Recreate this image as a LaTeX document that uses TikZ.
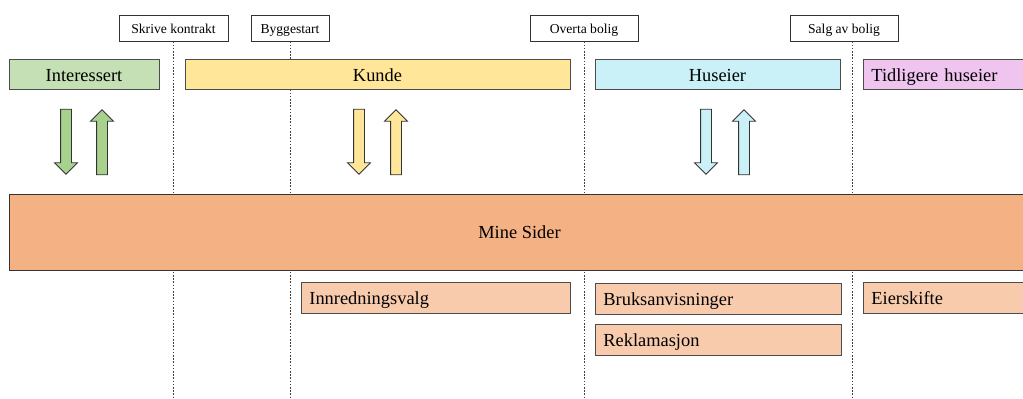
\documentclass[tikz,border=0pt]{standalone}
\usepackage{fontspec}
\setmainfont{Liberation Serif}
\usetikzlibrary{shapes.arrows,positioning}

\definecolor{intgreen}{HTML}{C5E0B4}
\definecolor{arrgreen}{HTML}{A9D18E}
\definecolor{kundeyellow}{HTML}{FFE699}
\definecolor{husecyan}{HTML}{C9F1F7}
\definecolor{tidpink}{HTML}{EFC4EF}
\definecolor{pageorange}{HTML}{F4B183}
\definecolor{suborange}{HTML}{F8CBAD}

\begin{document}
\begin{tikzpicture}[x=0.75pt, y=-0.75pt, line width=0.6pt,
  mile node/.style={draw=black!80, fill=white, font=\fontsize{10.2}{12}\selectfont, minimum height=19.5pt, inner sep=0pt, text height=10pt, text depth=1.5pt},
  mile line/.style={draw=black!75, dash pattern=on 1.2pt off 1.2pt},
  role node/.style={draw=black!70, font=\fontsize{13.8}{16}\selectfont, minimum height=22.5pt, inner sep=0pt, text height=12.2pt, text depth=1.5pt},
  page node/.style={draw=black!80, fill=pageorange, font=\fontsize{13.8}{16}\selectfont, minimum height=57pt, inner sep=0pt},
  sub node/.style={draw=black!70, fill=suborange, font=\fontsize{13.8}{16}\selectfont, minimum height=23.25pt, inner xsep=6pt, inner ysep=0pt, text height=12.2pt, text depth=1.5pt, align=left},
  flow arrow/.style={single arrow, draw=black!80, minimum height=48.75pt, single arrow head extend=4.5pt, inner sep=3.75pt},
  down/.style={flow arrow, shape border rotate=270},
  up/.style={flow arrow, shape border rotate=90}]
\useasboundingbox (0,0) rectangle (1023,399);

% milestones
\node[mile node, minimum width=81.75pt] (skrive) at (173.5,28) {Skrive kontrakt};
\node[mile node, minimum width=58.5pt] (bygge) at (290,28) {Byggestart};
\node[mile node, minimum width=81pt] (overta) at (584,28) {Overta bolig};
\node[mile node, minimum width=81pt] (salg) at (844,28) {Salg av bolig};

\coordinate (e1) at (173.5,399);
\coordinate (e2) at (290,399);
\coordinate (e3) at (584,399);
\coordinate (e4) at (852,399);
\draw[mile line] (skrive.south) -- (e1);
\draw[mile line] (bygge.south) -- (e2);
\draw[mile line] (overta.south) -- (e3);
\draw[mile line] (salg.south -| e4) -- (e4);

% roles
\node[role node, fill=intgreen, minimum width=112.5pt] (interessert) at (84,74.5) {Interessert};
\node[role node, fill=kundeyellow, minimum width=288.75pt] (kunde) at (377.5,74.5) {Kunde};
\node[role node, fill=husecyan, minimum width=183.75pt] (huseier) at (717.5,74.5) {Huseier};
\node[role node, fill=tidpink, minimum width=125.25pt, text width=113.25pt, align=left, inner xsep=6pt, anchor=west] (tidligere) at (863,74.5) {Tidligere huseier};

% arrows
\node[down, fill=arrgreen] (g1) at (66,139) {};
\node[up, fill=arrgreen] (g2) at (102,145) {};
\node[down, fill=kundeyellow] (y1) at (359,139) {};
\node[up, fill=kundeyellow] (y2) at (396,145) {};
\node[down, fill=husecyan] (c1) at (706,139) {};
\node[up, fill=husecyan] (c2) at (744,145) {};

% mine sider
\node[page node, minimum width=765.75pt] (mine) at (519.5,232) {Mine Sider};

% pages
\node[sub node, text width=189.75pt, anchor=west] (innred) at (301,297.5) {Innredningsvalg};
\node[sub node, text width=172.5pt, anchor=west] (bruks) at (595,298.5) {Bruksanvisninger};
\node[sub node, text width=172.5pt, anchor=west] (reklam) at (595,339.5) {Reklamasjon};
\node[sub node, text width=113.25pt, anchor=west] (eier) at (863,297.5) {Eierskifte};
\end{tikzpicture}
\end{document}
